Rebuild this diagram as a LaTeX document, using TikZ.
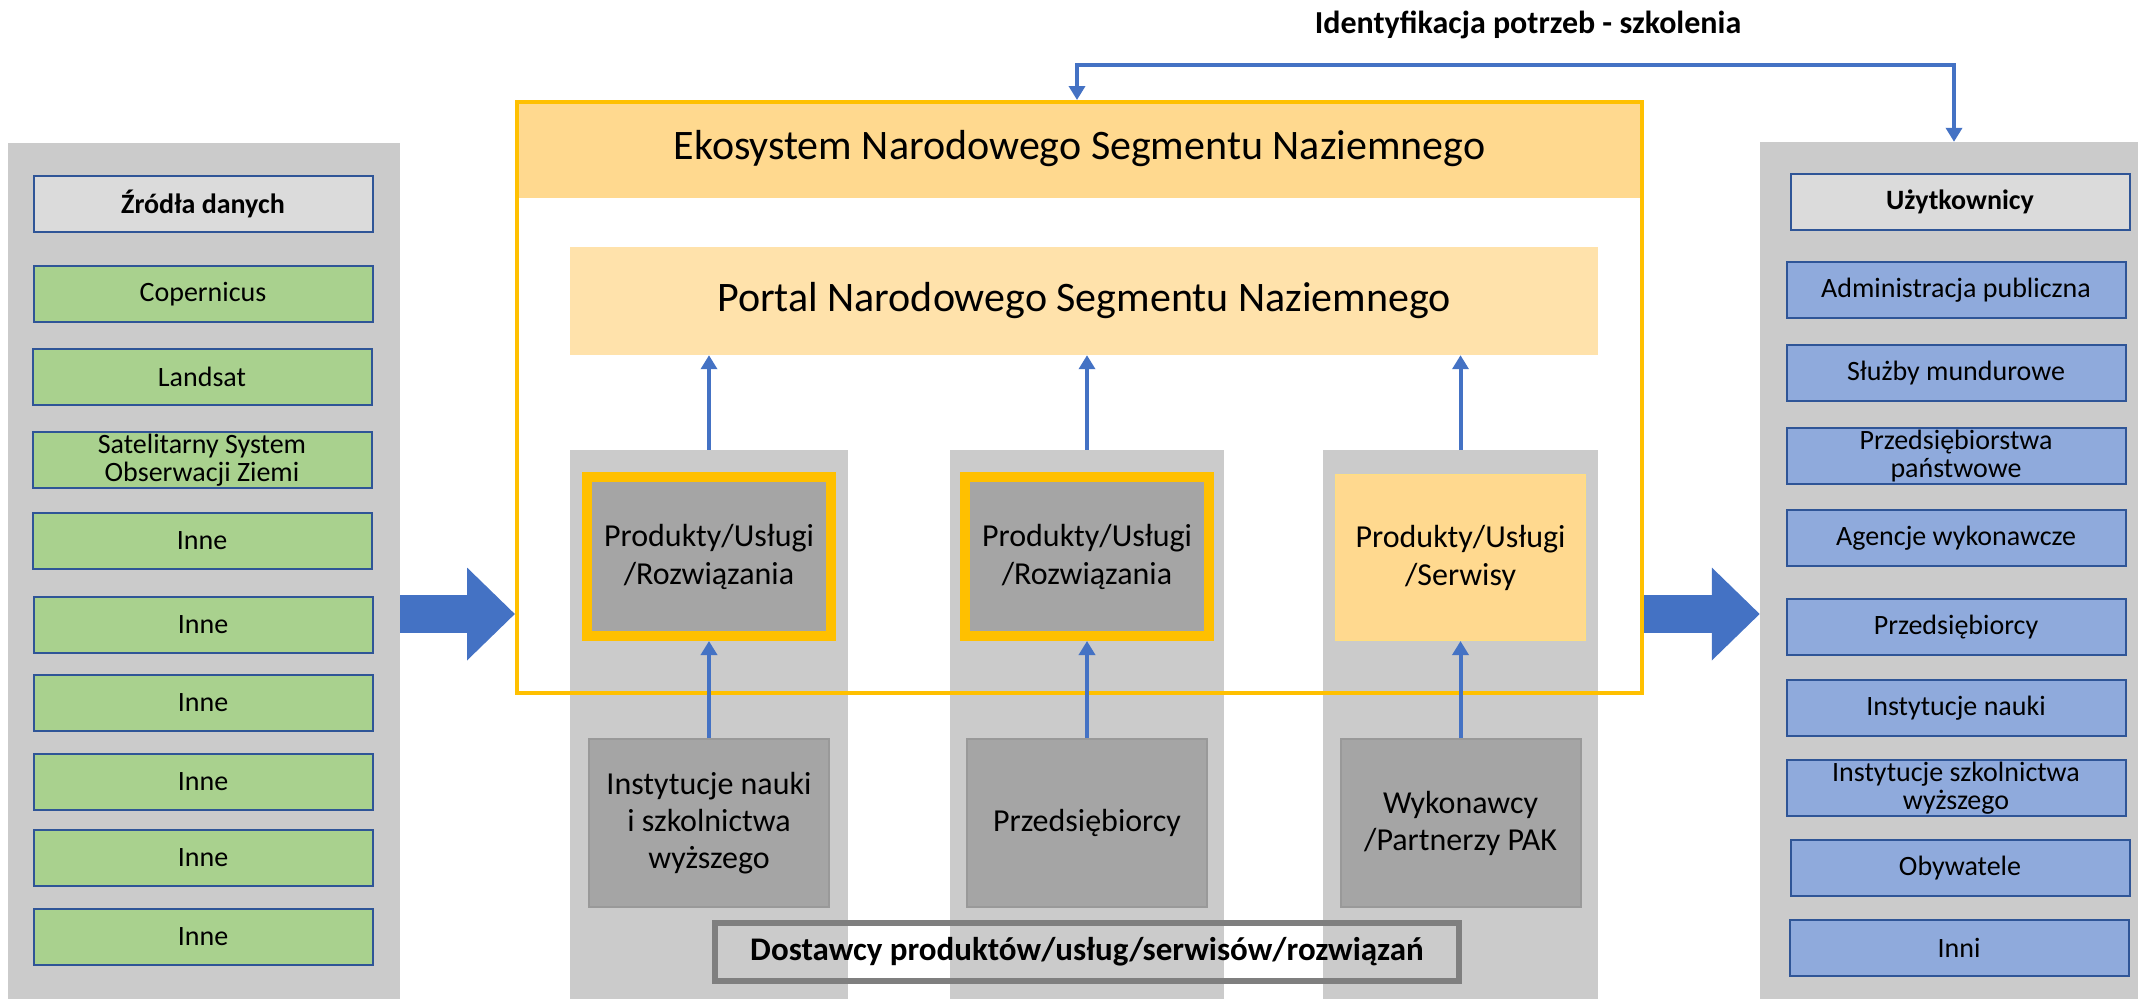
\documentclass[tikz,border=0pt]{standalone}
\usepackage{fontspec}
\setmainfont{Carlito}
\usepackage{xcolor}
\usepackage{tikz}
\usetikzlibrary{arrows.meta}
\definecolor{panelgray}{HTML}{CBCBCB}
\definecolor{srcgreen}{HTML}{A9D18E}
\definecolor{usrblue}{HTML}{8FAADC}
\definecolor{edgeblue}{HTML}{2F5597}
\definecolor{arrowblue}{HTML}{4472C4}
\definecolor{ekoorange}{HTML}{FFC000}
\definecolor{lightorange}{HTML}{FFD98F}
\definecolor{darkgray}{HTML}{A5A5A5}
\definecolor{framegray}{HTML}{7F7F7F}

\begin{document}
\begin{tikzpicture}[x=1pt, y=-1pt,
    box/.style = {draw=edgeblue, line width=2, inner sep=0, minimum width=339, minimum height=56, align=center, font=\fontsize{28}{28}\selectfont},
    src/.style = {box, fill=srcgreen},
    usr/.style = {box, fill=usrblue},
    hdr/.style = {box, fill=panelgray!70!white, font=\fontsize{28}{28}\selectfont\bfseries},
    col/.style = {fill=panelgray, inner sep=0, minimum height=549},
    prod/.style = {draw=ekoorange, line width=10, fill=darkgray, inner sep=0, minimum width=244, minimum height=159, align=center, font=\fontsize{32}{38}\selectfont},
    inst/.style = {draw=framegray!80, line width=2, fill=darkgray, inner sep=0, minimum width=240, minimum height=168, align=center, font=\fontsize{32}{37}\selectfont},
    flow/.style = {draw=arrowblue, line width=4, -{Triangle[length=14pt, width=16pt]}},
    big/.style = {draw=arrowblue, line width=38, -{Triangle[length=48pt, width=90pt]}}]
    \useasboundingbox (0,0) rectangle (2138,999);
    % side panels
    \node[fill=panelgray, inner sep=0, minimum width=392, minimum height=856] (lp) at (204,571) {};
    \node[fill=panelgray, inner sep=0, minimum width=378, minimum height=857] (up) at (1949,570.5) {};
    % data sources
    \node[hdr] (s0) at (203,204) {Źródła danych};
    \node[src] (s1) at (203,294) {Copernicus};
    \node[src] (s2) at (202,377) {Landsat};
    \node[src] (s3) at (202,460) {Satelitarny System\\Obserwacji Ziemi};
    \node[src] (s4) at (202,541) {Inne};
    \node[src] (s5) at (203,625) {Inne};
    \node[src] (s6) at (203,703) {Inne};
    \node[src] (s7) at (203,782) {Inne};
    \node[src] (s8) at (203,858) {Inne};
    \node[src] (s9) at (203,937) {Inne};
    % users
    \node[hdr] (u0) at (1960,202) {Użytkownicy};
    \node[usr] (u1) at (1956,290) {Administracja publiczna};
    \node[usr] (u2) at (1956,373) {Służby mundurowe};
    \node[usr] (u3) at (1956,456) {Przedsiębiorstwa\\państwowe};
    \node[usr] (u4) at (1956,538) {Agencje wykonawcze};
    \node[usr] (u5) at (1956,627) {Przedsiębiorcy};
    \node[usr] (u6) at (1956,708) {Instytucje nauki};
    \node[usr] (u7) at (1956,788) {Instytucje szkolnictwa\\wyższego};
    \node[usr] (u8) at (1960,868) {Obywatele};
    \node[usr] (u9) at (1959,948) {Inni};
    % ecosystem
    \node[fill=lightorange, inner sep=0, minimum width=1129, minimum height=98, font=\fontsize{42}{50}\selectfont] (ekoh) at (1079.5,149) {Ekosystem Narodowego Segmentu Naziemnego};
    \node[fill=lightorange!75!white, inner sep=0, minimum width=1028, minimum height=108, font=\fontsize{42}{50}\selectfont] (portal) at (1084,301) {Portal Narodowego Segmentu Naziemnego};
    \node[col, minimum width=278] (c1) at (709,724.5) {};
    \node[col, minimum width=274] (c2) at (1087,724.5) {};
    \node[col, minimum width=275] (c3) at (1460.5,724.5) {};
    \node[prod] (p1) at (709,556.5) {Produkty/Usługi\\/Rozwiązania};
    \node[prod] (p2) at (1087,556.5) {Produkty/Usługi\\/Rozwiązania};
    \node[prod, draw=ekoorange!50, line width=1, fill=lightorange, minimum width=250, minimum height=166] (p3) at (1460.5,557.5) {Produkty/Usługi\\/Serwisy};
    \node[inst] (i1) at (709,823) {Instytucje nauki\\i szkolnictwa\\wyższego};
    \node[inst] (i2) at (1087,823) {Przedsiębiorcy};
    \node[inst] (i3) at (1460.5,823) {Wykonawcy\\/Partnerzy PAK};
    \node[draw=framegray, line width=6, inner sep=0, minimum width=744, minimum height=58, font=\fontsize{33}{38}\selectfont\bfseries] (dost) at (1087,952) {Dostawcy produktów/usług/serwisów/rozwiązań};
    \node[draw=ekoorange, line width=4, inner sep=0, minimum width=1125, minimum height=591] (eco) at (1079.5,397.5) {};
    % flows
    \draw[flow] (c1.north) -- (c1.north |- portal.south);
    \draw[flow] (c2.north) -- (c2.north |- portal.south);
    \draw[flow] (c3.north) -- (c3.north |- portal.south);
    \draw[flow] (i1) -- (p1);
    \draw[flow] (i2) -- (p2);
    \draw[flow] (i3) -- (p3);
    % feedback loop
    \node[font=\fontsize{32}{36}\selectfont\bfseries] (idt) at (1528,25) {Identyfikacja potrzeb - szkolenia};
    \coordinate (k1) at (1077,65);
    \coordinate (k2) at (1954,65);
    \draw[flow, {Triangle[length=14pt, width=16pt]}-{Triangle[length=14pt, width=16pt]}] (eco.north -| k1) -- (k1) -- (k2) -- (up.north -| k2);
    % big arrows
    \coordinate (mid) at (0,614);
    \draw[big] (lp.east |- mid) -- (eco.west |- mid);
    \draw[big] (eco.east |- mid) -- (up.west |- mid);
\end{tikzpicture}
\end{document}
